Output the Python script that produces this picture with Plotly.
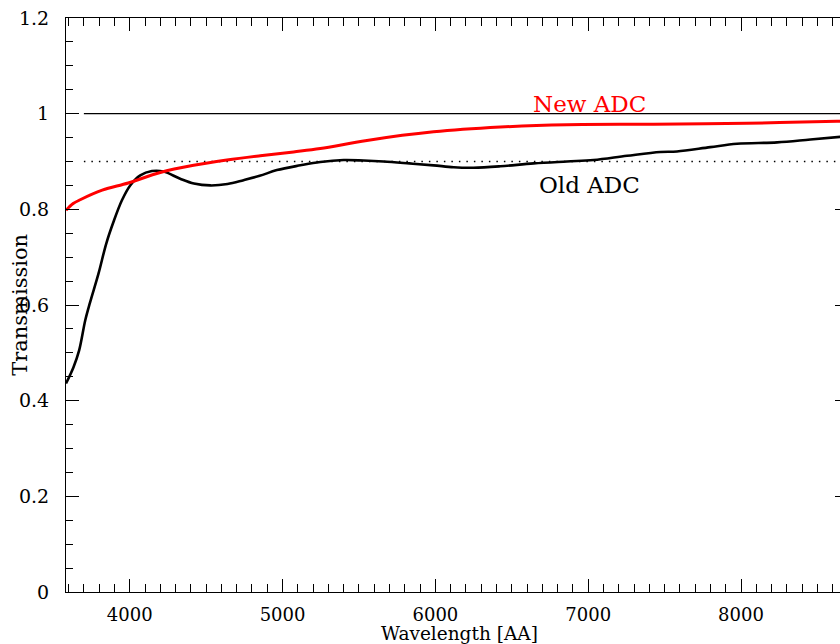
import plotly.graph_objects as go

# Old ADC transmission (black)
old_wl = [3583, 3632, 3669, 3709, 3741, 3796, 3846, 3894, 3949, 4003, 4069, 4145,
          4221, 4330, 4420, 4527, 4640, 4745, 4850, 4963, 5117, 5247, 5400, 5530,
          5661, 5830, 5988, 6120, 6250, 6425, 6643, 6861, 7035, 7254, 7472, 7581,
          7799, 7974, 8236, 8454, 8700]
old_tr = [0.436, 0.470, 0.505, 0.568, 0.606, 0.666, 0.728, 0.774, 0.819, 0.850, 0.871, 0.880,
          0.879, 0.864, 0.854, 0.850, 0.853, 0.861, 0.870, 0.882, 0.892, 0.899, 0.903, 0.902,
          0.900, 0.896, 0.892, 0.888, 0.887, 0.890, 0.896, 0.900, 0.903, 0.912, 0.920, 0.921,
          0.930, 0.937, 0.940, 0.946, 0.953]

# New ADC transmission (red)
new_wl = [3583, 3630, 3676, 3820, 3990, 4200, 4418, 4636, 4854, 5072, 5247, 5552,
          5988, 6425, 6861, 7428, 8039, 8628, 8700]
new_tr = [0.798, 0.812, 0.820, 0.840, 0.855, 0.877, 0.892, 0.903, 0.912, 0.920, 0.927, 0.944,
          0.962, 0.972, 0.977, 0.978, 0.980, 0.984, 0.984]

# reference levels
ref_wl = [3700, 8700]
ref_full = [1.0, 1.0]
ref_dot = [0.9, 0.9]

x_range = [3583, 8700]
y_range = [0, 1.2]

FONT = "DejaVu Serif"

fig = go.Figure()
fig.add_trace(go.Scatter(x=ref_wl, y=ref_full, mode="lines",
                         line=dict(color="black", width=1.2), showlegend=False))
fig.add_trace(go.Scatter(x=ref_wl, y=ref_dot, mode="lines",
                         line=dict(color="black", width=1.3, dash="1.5px,6px"), showlegend=False))
fig.add_trace(go.Scatter(x=old_wl, y=old_tr, mode="lines", line_shape="spline",
                         line=dict(color="black", width=2.6), showlegend=False))
fig.add_trace(go.Scatter(x=new_wl, y=new_tr, mode="lines", line_shape="spline",
                         line=dict(color="#ff0000", width=3), showlegend=False))

fig.add_annotation(x=7010, y=1.02, text="New ADC", showarrow=False,
                   font=dict(family=FONT, size=23, color="#ff0000"))
fig.add_annotation(x=7010, y=0.85, text="Old ADC", showarrow=False,
                   font=dict(family=FONT, size=23, color="black"))

# axis titles placed as paper-referenced annotations
fig.add_annotation(xref="paper", yref="paper", x=0.503, y=-0.0727, text="Wavelength [AA]",
                   showarrow=False, xanchor="center", yanchor="middle",
                   font=dict(family=FONT, size=18.5, color="black"))
fig.add_annotation(xref="paper", yref="paper", x=-0.059, y=0.5, text="Transmission",
                   showarrow=False, xanchor="center", yanchor="middle", textangle=-90,
                   font=dict(family=FONT, size=21, color="black"))

axis_common = dict(showgrid=False, zeroline=False, showline=True, linecolor="black",
                   linewidth=1, mirror="allticks", ticks="inside", tickcolor="black",
                   tickwidth=1, ticklen=13)

fig.update_xaxes(range=x_range, tick0=4000, dtick=1000, ticklabelstandoff=6,
                 tickfont=dict(family=FONT, size=18, color="black"),
                 minor=dict(dtick=100, ticks="inside", ticklen=8, tickcolor="black", tickwidth=1),
                 **axis_common)
fig.update_yaxes(range=y_range, tick0=0, dtick=0.2, ticklabelstandoff=12,
                 tickfont=dict(family=FONT, size=19, color="black"),
                 minor=dict(dtick=0.05, ticks="inside", ticklen=7, tickcolor="black", tickwidth=1),
                 **axis_common)

fig.update_layout(width=850, height=644,
                  margin=dict(l=66, r=2, t=18, b=52, autoexpand=False),
                  plot_bgcolor="white", paper_bgcolor="white")

fig.write_html("out.html", config={"displayModeBar": False},
               post_script="document.body.style.overflow='hidden';document.body.style.margin='0';")
